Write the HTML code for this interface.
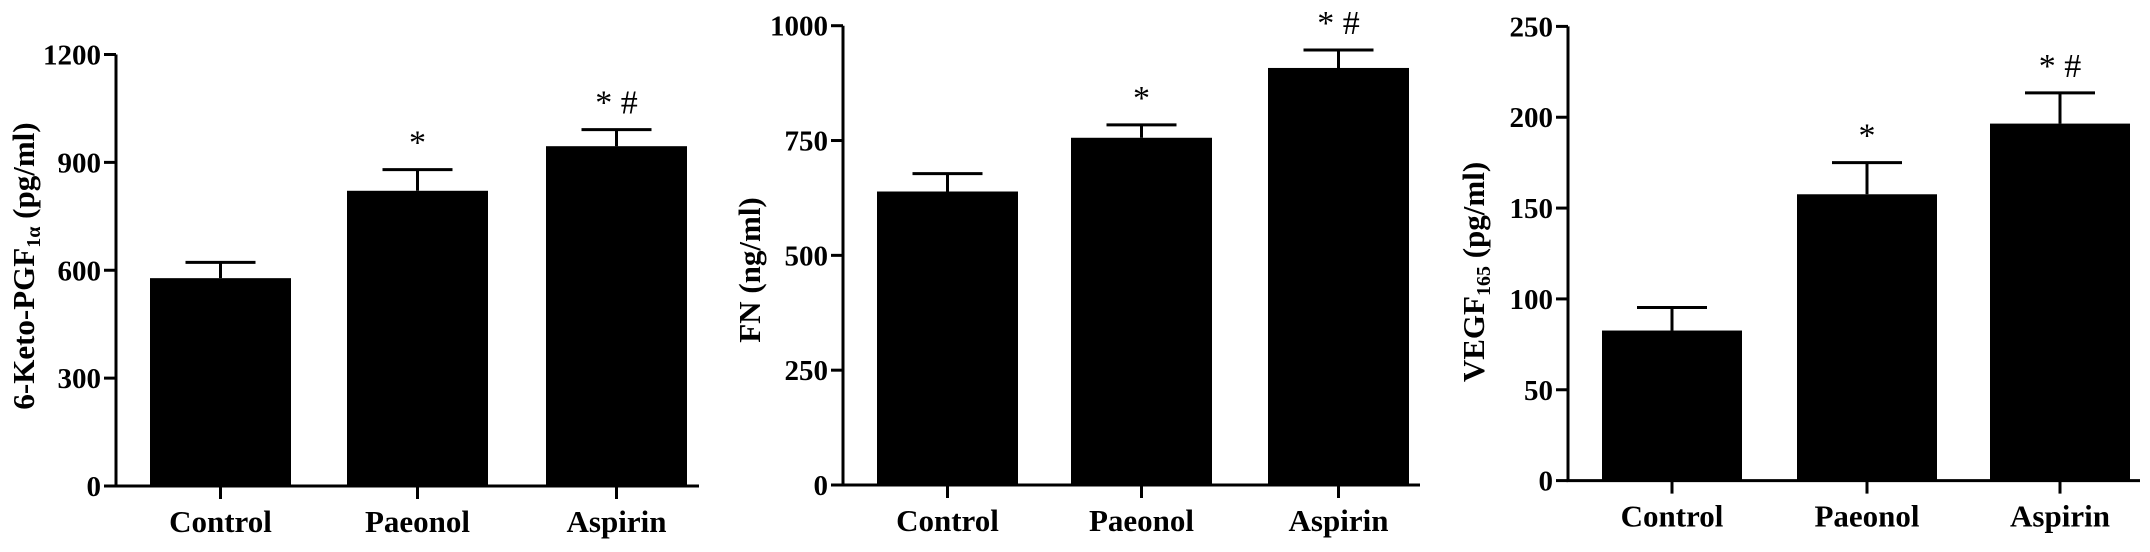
<!DOCTYPE html>
<html><head><meta charset="utf-8"><style>
html,body{margin:0;padding:0;background:#fff;}
svg{display:block;font-family:"Liberation Serif",serif;font-weight:bold;}
</style></head><body>
<svg id="fig" width="2150" height="552" viewBox="0 0 2150 552" xmlns="http://www.w3.org/2000/svg"></svg>
<script>
const categories = ["Control","Paeonol","Aspirin"];
const ketoValues = [578, 821, 945];
const ketoErrors = [622, 880, 991];
const ketoTicks = [0, 300, 600, 900, 1200];
const ketoMarks = ["", "*", "* #"];
const fnValues = [639, 756, 908];
const fnErrors = [678, 784, 947];
const fnTicks = [0, 250, 500, 750, 1000];
const fnMarks = ["", "*", "* #"];
const vegfValues = [82.6, 157.6, 196.5];
const vegfErrors = [95.3, 175, 213.4];
const vegfTicks = [0, 50, 100, 150, 200, 250];
const vegfMarks = ["", "*", "* #"];

const NS = "http://www.w3.org/2000/svg";
const svg = document.getElementById('fig');
function mk(tag, attrs, parent){
  const e = document.createElementNS(NS, tag);
  for (const k in attrs) e.setAttribute(k, attrs[k]);
  (parent||svg).appendChild(e);
  return e;
}
function panel(cfg){
  const g = mk('g', {});
  
  
  const maxV = cfg.ticks[cfg.ticks.length-1];
  const y = v => cfg.y0 - (cfg.y0 - cfg.yTop) * v / maxV;
  cfg.values.forEach((v,i)=>{
    const bx = cfg.barX[i];
    const r = mk('rect', {x:bx, y:y(v), width:cfg.barW, height:cfg.y0 - y(v), fill:'#000'}, g);
    
    
    const cx = bx + cfg.barW/2;
    const ey = y(cfg.errors[i]);
    const el = mk('path', {d:`M${cx} ${y(v)}V${ey}M${cx-35} ${ey}H${cx+35}`, stroke:'#000','stroke-width':3, fill:'none'}, g);
    
    
    if (cfg.marks[i]) {
      const t = mk('text', {x:cx, y:ey - 16, 'text-anchor':'middle', 'font-size':34, 'font-weight':'normal'}, g);
      t.textContent = cfg.marks[i];
      
      
    }
    const tk = mk('line', {x1:cx, x2:cx, y1:cfg.y0, y2:cfg.y0+13, stroke:'#000','stroke-width':3}, g);
    
    
    const lb = mk('text', {x:cx, y:cfg.y0+46, 'text-anchor':'middle', 'font-size':31}, g);
    lb.textContent = categories[i];
    
    
  });
  const ax = mk('path', {d:`M${cfg.axisX} ${cfg.yTop}V${cfg.y0}H${cfg.axisEnd}`, stroke:'#000','stroke-width':3, fill:'none'}, g);
  
  
  cfg.ticks.forEach(t=>{
    const ty = y(t);
    const l = mk('line', {x1:cfg.axisX-12, x2:cfg.axisX, y1:ty, y2:ty, stroke:'#000','stroke-width':3}, g);
    
    
    const tx = mk('text', {x:cfg.axisX-15, y:ty+10, 'text-anchor':'end', 'font-size':29}, g);
    tx.textContent = t;
    
    
  });
  const tt = mk('text', {transform:`translate(${cfg.titleX},${cfg.titleY}) rotate(-90)`, 'text-anchor':'middle', 'font-size':31}, g);
  
  
  tt.innerHTML = cfg.title;
}
panel({name:'keto-chart', values:ketoValues, errors:ketoErrors, ticks:ketoTicks, marks:ketoMarks,
  axisX:116, axisEnd:699, y0:486, yTop:54.5, barX:[150,347,546], barW:141,
  titleX:34, titleY:266, title:'6-Keto-PGF<tspan font-size="20" dy="6">1α</tspan><tspan dy="-6">  (pg/ml)</tspan>'});
panel({name:'fn-chart', values:fnValues, errors:fnErrors, ticks:fnTicks, marks:fnMarks,
  axisX:843, axisEnd:1420, y0:485, yTop:25.7, barX:[877,1071,1268], barW:141,
  titleX:760, titleY:270, title:'FN (ng/ml)'});
panel({name:'vegf-chart', values:vegfValues, errors:vegfErrors, ticks:vegfTicks, marks:vegfMarks,
  axisX:1568, axisEnd:2140, y0:480.6, yTop:26.4, barX:[1602,1797,1990], barW:140,
  titleX:1484, titleY:272, title:'VEGF<tspan font-size="20" dy="6">165</tspan><tspan dy="-6">      (pg/ml)</tspan>'});
</script>
</body></html>
